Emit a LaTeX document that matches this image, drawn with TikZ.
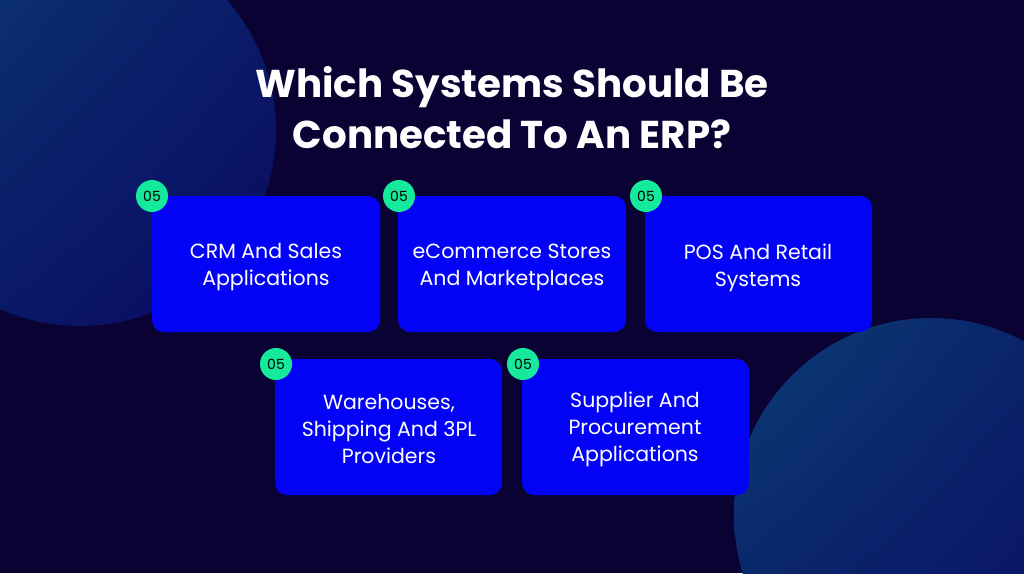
\documentclass[tikz,border=0pt]{standalone}
\usepackage{fontspec}
\usetikzlibrary{shadings}
\setmainfont{Poppins}
\newfontfamily\titlefont{Poppins}
\definecolor{bgc}{HTML}{0A0233}
\definecolor{boxc}{HTML}{0202F7}
\definecolor{badgec}{HTML}{14E99C}
\definecolor{cirA}{HTML}{0B3C74}
\definecolor{cirM}{HTML}{0A1E69}
\definecolor{cirB}{HTML}{0A0862}
\tikzset{
  card/.style={fill=boxc, rounded corners=12pt},
  cardtext/.style={text=white, align=center, font=\fontsize{20.5}{27}\selectfont},
  badge/.style={circle, fill=badgec, minimum size=32pt, inner sep=0pt, font=\fontsize{14}{14}\selectfont, text=black},
}
\begin{document}
\begin{tikzpicture}[x=1pt,y=-1pt]
\useasboundingbox (0,0) rectangle (1024,573);
\fill[bgc] (0,0) rectangle (1024,573);
\begin{scope}
\clip (0,0) rectangle (1024,573);
\shade[upper left=cirA, upper right=cirM, lower left=cirM, lower right=cirB] (80,130) circle (196);
\shade[upper left=cirA, upper right=cirM, lower left=cirM, lower right=cirB] (931,515) circle (197);
\end{scope}
\node[text=white, align=center, font=\titlefont\bfseries\fontsize{38.8}{51}\selectfont] (title) at (512,108) {Which Systems Should Be\\Connected To An ERP?};
% cards
\fill[card] (152,196) rectangle (380,332);
\node[cardtext] (t1) at (266,267.5) {CRM And Sales\\Applications};
\node[badge] (b1) at (152,196) {05};
\fill[card] (398,196) rectangle (626,332);
\node[cardtext] (t2) at (512,267.5) {eCommerce Stores\\And Marketplaces};
\node[badge] (b2) at (399,196) {05};
\fill[card] (645,196) rectangle (872,332);
\node[cardtext] (t3) at (758,267.5) {POS And Retail\\Systems};
\node[badge] (b3) at (646,196) {05};
\fill[card] (275,359) rectangle (502,495);
\node[cardtext] (t4) at (389,429) {Warehouses,\\Shipping And 3PL\\Providers};
\node[badge] (b4) at (276,364) {05};
\fill[card] (522,359) rectangle (749,495);
\node[cardtext] (t5) at (635,429) {Supplier And\\Procurement\\Applications};
\node[badge] (b5) at (523,364) {05};
\end{tikzpicture}
\end{document}
